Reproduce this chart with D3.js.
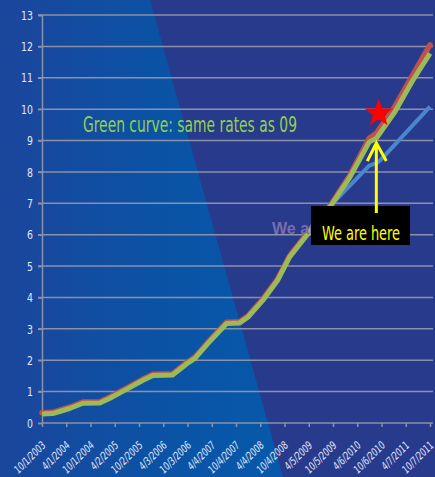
<!DOCTYPE html>
<html>
<head>
<meta charset="utf-8">
<script src="https://cdnjs.cloudflare.com/ajax/libs/d3/7.8.5/d3.min.js"></script>
<style>
  html, body { margin: 0; padding: 0; background: #283a8c; }
  svg { display: block; }
  .narrow { font-family: "DejaVu Sans Condensed", "Liberation Sans Narrow", "Liberation Sans", sans-serif; font-stretch: condensed; }
</style>
</head>
<body>
<div id="viz"></div>
<script>
// data
const dates = ["2003-10-01","2003-12-20","2004-03-01","2004-05-01","2004-08-05","2004-12-10",
  "2005-02-25","2005-06-15","2005-11-01","2006-01-15","2006-06-12","2006-09-28","2006-11-28",
  "2007-03-18","2007-07-25","2007-11-01","2008-01-01","2008-04-20","2008-08-12","2008-11-12",
  "2009-04-10","2009-09-22","2010-02-05","2010-07-05","2010-08-28","2011-01-10","2011-05-25","2011-10-07"];
const redValues = [0.33,0.34,0.43,0.51,0.67,0.68,0.83,1.08,1.40,1.55,1.57,1.93,2.10,
  2.63,3.21,3.23,3.41,3.93,4.58,5.33,6.13,6.98,7.86,9.07,9.23,10.05,11.05,12.05];
const greenValues = [0.29,0.30,0.39,0.47,0.63,0.64,0.79,1.04,1.36,1.51,1.53,1.89,2.06,
  2.59,3.17,3.19,3.37,3.89,4.54,5.29,6.09,6.94,7.80,8.95,9.07,9.88,10.88,11.78];
const blueDates = ["2009-09-22","2010-07-05","2010-08-28","2010-09-25","2011-10-07"];
const blueValues = [6.95,8.20,8.28,8.36,10.08];
const tickLabels = ["10/1/2003","4/1/2004","10/1/2004","4/2/2005","10/2/2005","4/3/2006",
  "10/3/2006","4/4/2007","10/4/2007","4/4/2008","10/4/2008","4/5/2009","10/5/2009",
  "4/6/2010","10/6/2010","4/7/2011","10/7/2011"];
const yTicks = d3.range(0, 14);
const starPoint = { date: "2010-09-15", value: 9.87 };
const herePoint = { date: "2010-08-28", value: 8.92 };

const width = 435, height = 477;
const parse = d3.timeParse("%Y-%m-%d");
const parseLabel = d3.timeParse("%m/%d/%Y");

const svg = d3.select("#viz").append("svg")
  .attr("width", width)
  .attr("height", height);

// background
const defs = svg.append("defs");
const grad = defs.append("linearGradient").attr("id", "bgLeft")
  .attr("x1", 0).attr("x2", 1).attr("y1", 0).attr("y2", 0);
grad.append("stop").attr("offset", "0%").attr("stop-color", "#1b469c");
grad.append("stop").attr("offset", "35%").attr("stop-color", "#0b52a4");
grad.append("stop").attr("offset", "65%").attr("stop-color", "#0659ab");
grad.append("stop").attr("offset", "100%").attr("stop-color", "#0659ab");
svg.append("rect").attr("width", width).attr("height", height).attr("fill", "url(#bgLeft)");
svg.append("path")
  .attr("d", "M150,0 L435,0 L435,477 L283,477 Z")
  .attr("fill", "#283a8c");

const x = d3.scaleTime()
  .domain([parse("2003-10-01"), parse("2011-10-07")])
  .range([42, 430]);
const y = d3.scaleLinear().domain([0, 13]).range([423, 15]);

// gridlines
svg.append("g").selectAll("line")
  .data(yTicks.filter(d => d > 0))
  .join("line")
  .attr("x1", 38).attr("x2", 433)
  .attr("y1", d => y(d)).attr("y2", d => y(d))
  .attr("stroke", "#8c90a8").attr("stroke-width", 1.5);

// y axis
const yAxis = d3.axisLeft(y).tickValues(yTicks).tickSize(4).tickPadding(0);
const yg = svg.append("g").attr("transform", "translate(42,0)").call(yAxis);
yg.select(".domain").attr("stroke", "#8c90a8").attr("stroke-width", 1.5);
yg.selectAll(".tick line").attr("stroke", "#8c90a8").attr("stroke-width", 1.5);
yg.selectAll("text").attr("class", "narrow").attr("fill", "#e4e8f6").attr("font-size", 13)
  .attr("x", 0).attr("transform", "translate(-9,0) scale(0.8,1)");

// x axis
const xAxis = d3.axisBottom(x)
  .tickValues(tickLabels.map(parseLabel))
  .tickFormat((d, i) => tickLabels[i])
  .tickSize(4).tickSizeOuter(0);
const xg = svg.append("g").attr("transform", `translate(0,${y(0)})`).call(xAxis);
xg.select(".domain").attr("stroke", "#8c90a8").attr("stroke-width", 1.5).attr("d", "M42,0H433");
xg.selectAll(".tick line").attr("stroke", "#8c90a8").attr("stroke-width", 1.5);
xg.selectAll("text")
  .attr("class", "narrow")
  .attr("fill", "#e4e8f6")
  .attr("font-size", 11)
  .attr("font-style", "italic")
  .attr("text-anchor", "end")
  .attr("x", 0).attr("y", 0).attr("dy", 0)
  .attr("transform", "translate(4,23) rotate(-45) scale(0.78,1)");

// lines
const line = d3.line().x(d => x(d[0])).y(d => y(d[1]));
const redData = dates.map((d, i) => [parse(d), redValues[i]]);
const greenData = dates.map((d, i) => [parse(d), greenValues[i]]);
const blueData = blueDates.map((d, i) => [parse(d), blueValues[i]]);

svg.append("path").datum(blueData).attr("d", line)
  .attr("fill", "none").attr("stroke", "#4a86cc").attr("stroke-width", 4)
  .attr("stroke-linejoin", "round");
svg.append("path").datum(redData).attr("d", line)
  .attr("fill", "none").attr("stroke", "#c0504d").attr("stroke-width", 5.5)
  .attr("stroke-linejoin", "round").attr("stroke-linecap", "round");
svg.append("path").datum(greenData).attr("d", line)
  .attr("fill", "none").attr("stroke", "#9bbb59").attr("stroke-width", 5)
  .attr("stroke-linejoin", "round");

// annotations
svg.append("text").attr("class", "narrow")
  .attr("x", 83).attr("y", 132)
  .attr("fill", "#92d050").attr("font-size", 21)
  .attr("textLength", 214).attr("lengthAdjust", "spacingAndGlyphs")
  .text("Green curve: same rates as 09");

svg.append("text")
  .attr("x", 272).attr("y", 234)
  .attr("font-family", "Liberation Sans, Arial, sans-serif")
  .attr("font-weight", "bold").attr("font-size", 16)
  .attr("fill", "#7a6cb0")
  .text("We are here");

svg.append("rect")
  .attr("x", 311).attr("y", 206).attr("width", 99).attr("height", 39)
  .attr("fill", "#000");
svg.append("text").attr("class", "narrow")
  .attr("x", 322).attr("y", 240)
  .attr("fill", "#ffff00").attr("font-size", 20)
  .attr("textLength", 78).attr("lengthAdjust", "spacingAndGlyphs")
  .text("We are here");

// arrow
const ax = x(parse(herePoint.date)), ay = y(herePoint.value);
svg.append("path")
  .attr("d", `M${ax},213 L${ax},${ay} M${ax - 9},${ay + 18} L${ax},${ay} L${ax + 10},${ay + 18}`)
  .attr("fill", "none").attr("stroke", "#ffff00").attr("stroke-width", 3);

// star
const sx = x(parse(starPoint.date)), sy = y(starPoint.value);
const R = 15, r = 6;
const starPts = d3.range(10).map(i => {
  const a = -Math.PI / 2 + i * Math.PI / 5;
  const rr = i % 2 ? r : R;
  return [sx + rr * Math.cos(a), sy + rr * Math.sin(a)];
});
svg.append("path")
  .attr("d", "M" + starPts.join("L") + "Z")
  .attr("fill", "#ff0000");
</script>
</body>
</html>
